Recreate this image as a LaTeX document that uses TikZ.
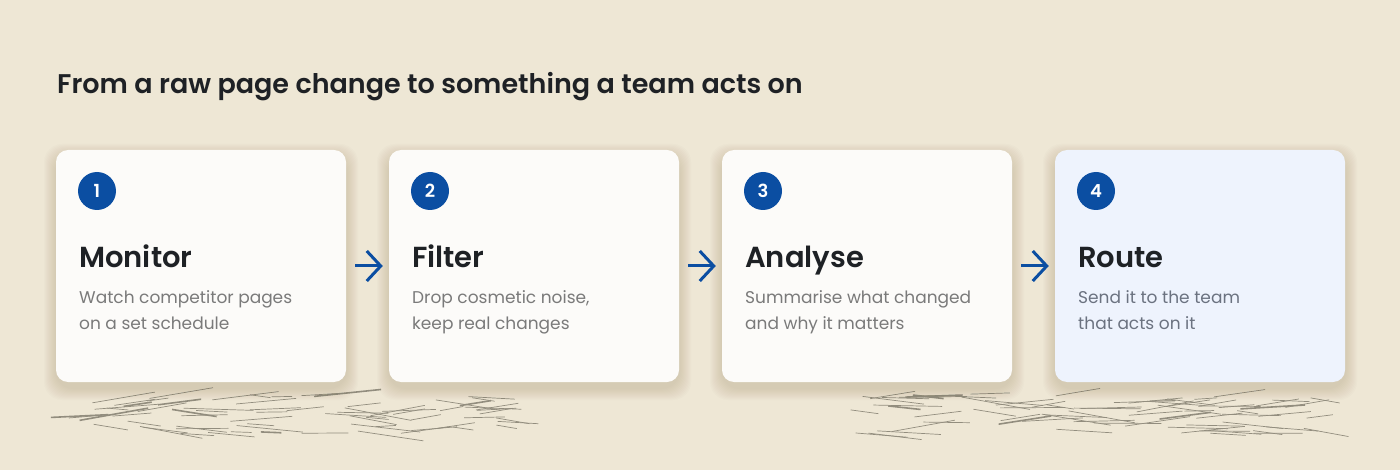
\documentclass[tikz,border=0pt]{standalone}
\usepackage{fontspec}
\setmainfont{Poppins}
\newfontfamily\medfont{Poppins SemiBold}
\usetikzlibrary{arrows.meta}
\pgfdeclarelayer{backlayer}
\pgfdeclarelayer{edgelayer}
\pgfdeclarelayer{nodelayer}
\pgfsetlayers{backlayer,edgelayer,nodelayer,main}
\definecolor{pagebeige}{RGB}{238,231,213}
\definecolor{cardwhite}{RGB}{252,251,249}
\definecolor{cardblue}{RGB}{238,243,253}
\definecolor{stepblue}{RGB}{11,78,162}
\definecolor{headink}{RGB}{30,33,37}
\definecolor{blurbgrey}{RGB}{122,122,122}
\definecolor{blurbslate}{RGB}{107,114,128}
\definecolor{scribblegrey}{RGB}{146,141,126}
\definecolor{shadetone}{RGB}{110,92,60}
\tikzstyle{card} = [draw=none, fill=cardwhite, rounded corners=12pt, minimum width=290pt, minimum height=232pt, inner sep=0pt]
\tikzstyle{lastcard} = [card, fill=cardblue]
\tikzstyle{cardshade} = [fill=shadetone, opacity=0.016, rounded corners=18pt]
\tikzstyle{badge} = [circle, fill=stepblue, minimum size=38pt, inner sep=0pt, text=white, font=\medfont\fontsize{18}{18}\selectfont]
\tikzstyle{heading} = [anchor=base west, inner sep=0pt, text=headink, font=\medfont\fontsize{29}{34}\selectfont]
\tikzstyle{blurb} = [anchor=base west, inner sep=0pt, align=left, text=blurbgrey, font=\fontsize{17}{26}\selectfont]
\tikzstyle{title} = [anchor=base west, inner sep=0pt, text=headink, font=\medfont\fontsize{27}{32}\selectfont]
\tikzstyle{flow} = [draw=stepblue, line width=3pt, -{Straight Barb[length=14pt,width=30pt]}, shorten <=9pt, shorten >=6pt]
\tikzstyle{scribble} = [draw=scribblegrey, line width=0.9pt]

\begin{document}
\begin{tikzpicture}[x=1pt, y=-1pt]
	\useasboundingbox (0, 0) rectangle (1400, 470);
	\begin{pgfonlayer}{backlayer}
		\fill [pagebeige] (0, 0) rectangle (1400, 470);
		% pencil strokes under the cards
		\pgfmathsetseed{23}
		\foreach \i in {1,...,70} {
			\pgfmathsetmacro\sl{20+rnd*50}
			\pgfmathsetmacro\sx{50+rnd*(495-\sl)}
			\pgfmathsetmacro\sy{394+rnd*40}
			\pgfmathsetmacro\sa{-11+rnd*22}
			\pgfmathsetmacro\sw{0.7+0.9*(rnd>0.85)}
			\draw [scribble, line width=\sw pt] (\sx, \sy) -- ++(\sa:\sl);
		}
		\foreach \i in {1,...,75} {
			\pgfmathsetmacro\sl{20+rnd*50}
			\pgfmathsetmacro\sx{850+rnd*(510-\sl)}
			\pgfmathsetmacro\sy{394+rnd*40}
			\pgfmathsetmacro\sa{-11+rnd*22}
			\pgfmathsetmacro\sw{0.7+0.9*(rnd>0.85)}
			\draw [scribble, line width=\sw pt] (\sx, \sy) -- ++(\sa:\sl);
		}
		% soft shadows
		\foreach \cx in {56, 389, 722, 1055} {
			\foreach \k in {1,...,12} {
				\fill [cardshade] (\cx-\k, 150-\k+6) rectangle (\cx+290+\k, 382+\k+6);
			}
		}
	\end{pgfonlayer}
	\begin{pgfonlayer}{nodelayer}
		\node [title] (16) at (57, 94) {From a raw page change to something a team acts on};
		\node [card] (0) at (201, 266) {};
		\node [card] (1) at (534, 266) {};
		\node [card] (2) at (867, 266) {};
		\node [lastcard] (3) at (1200, 266) {};
		\node [badge] (4) at (97, 191) {1};
		\node [badge] (5) at (430, 191) {2};
		\node [badge] (6) at (763, 191) {3};
		\node [badge] (7) at (1096, 191) {4};
		\node [heading] (8) at (79, 268) {Monitor};
		\node [heading] (9) at (412, 268) {Filter};
		\node [heading] (10) at (745, 268) {Analyse};
		\node [heading] (11) at (1078, 268) {Route};
		\node [blurb] (12) at (79, 330) {Watch competitor pages\\on a set schedule};
		\node [blurb] (13) at (412, 330) {Drop cosmetic noise,\\keep real changes};
		\node [blurb] (14) at (745, 330) {Summarise what changed\\and why it matters};
		\node [blurb, text=blurbslate] (15) at (1078, 330) {Send it to the team\\that acts on it};
	\end{pgfonlayer}
	\begin{pgfonlayer}{edgelayer}
		\draw [flow] (0.east) to (1.west);
		\draw [flow] (1.east) to (2.west);
		\draw [flow] (2.east) to (3.west);
	\end{pgfonlayer}
\end{tikzpicture}
\end{document}
